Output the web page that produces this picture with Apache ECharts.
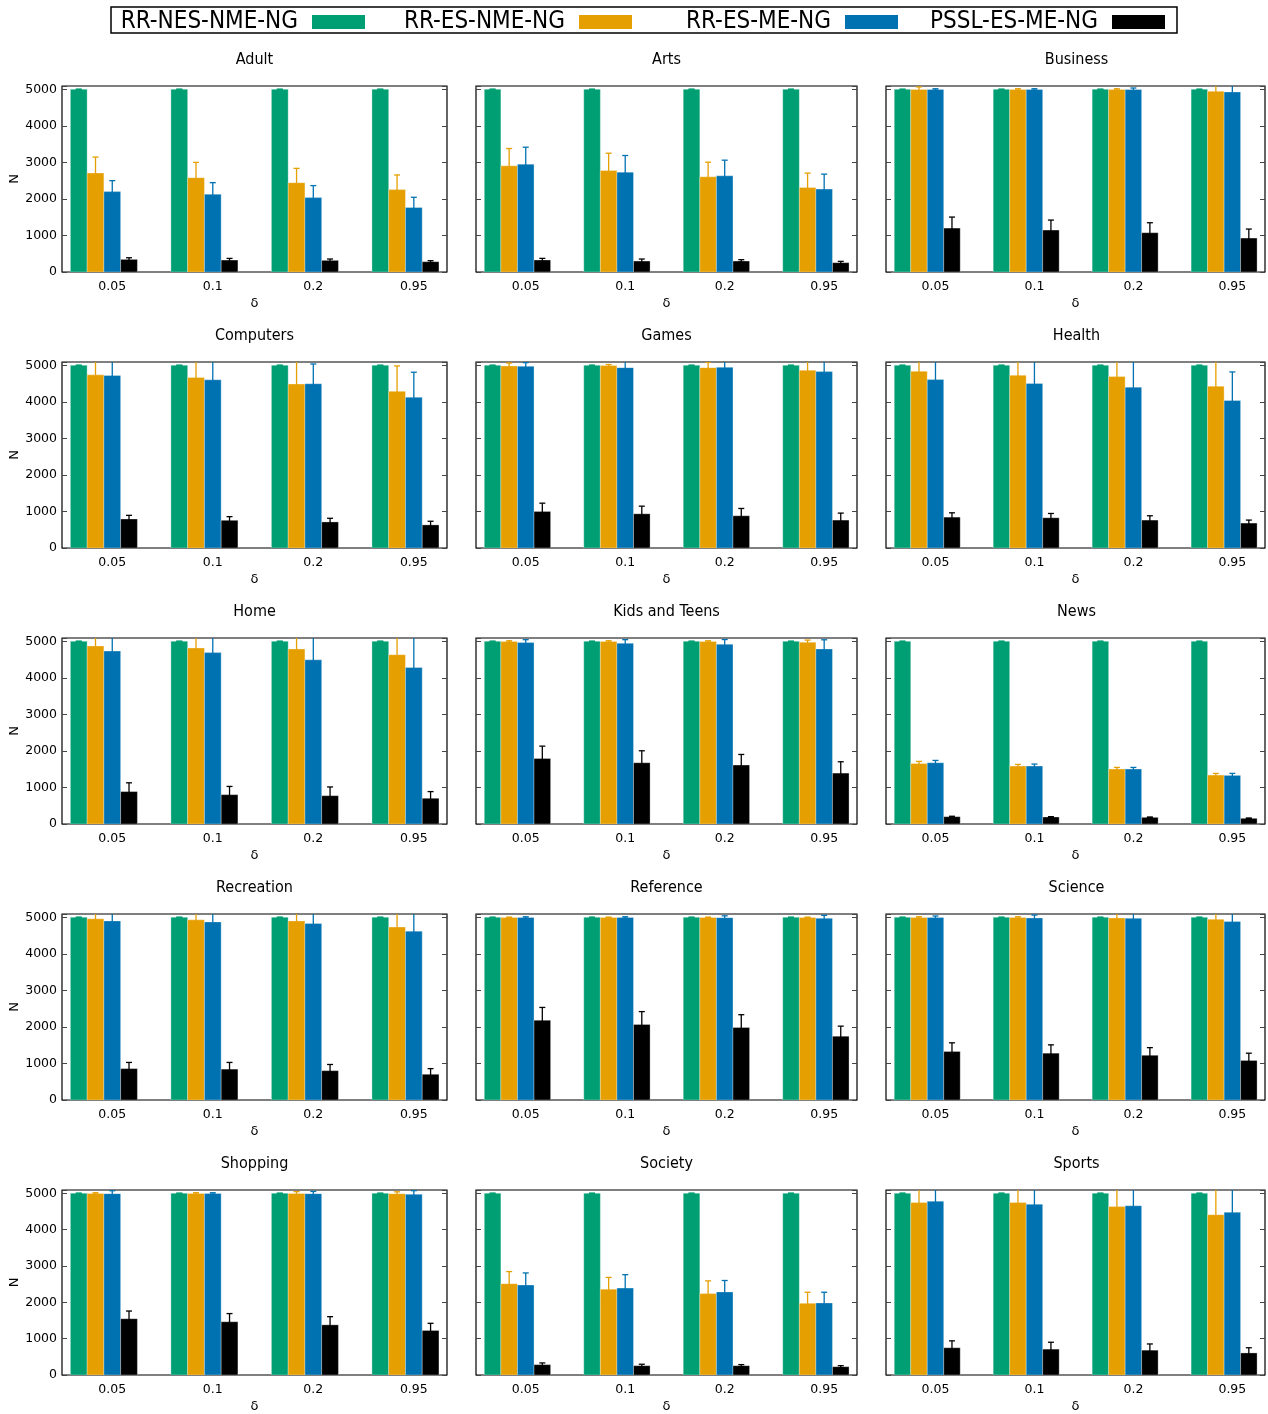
<!DOCTYPE html>
<html>
<head>
<meta charset="utf-8">
<script src="https://cdn.jsdelivr.net/npm/echarts@6/dist/echarts.min.js"></script>
<style>
html, body { margin: 0; padding: 0; background: #fff; }
#box { width: 1268px; height: 1414px; }
</style>
</head>
<body>
<div id="box"></div>
<script>
// one panel per category, 4 delta groups per panel
const categories = ['Adult', 'Arts', 'Business', 'Computers', 'Games', 'Health', 'Home',
    'Kids and Teens', 'News', 'Recreation', 'Reference', 'Science', 'Shopping', 'Society', 'Sports'];
const deltas = ['0.05', '0.1', '0.2', '0.95'];
const methods = ['RR-NES-NME-NG', 'RR-ES-NME-NG', 'RR-ES-ME-NG', 'PSSL-ES-ME-NG'];
const colors = ['#009e73', '#e69f00', '#0072b2', '#000000'];
const yTicks = [0, 1000, 2000, 3000, 4000, 5000];

// rows follow the order of categories
const rrNesNme = [
    [5000, 5000, 5000, 5000], [5000, 5000, 5000, 5000], [5000, 5000, 5000, 5000],
    [5000, 5000, 5000, 5000], [5000, 5000, 5000, 5000], [5000, 5000, 5000, 5000],
    [5000, 5000, 5000, 5000], [5000, 5000, 5000, 5000], [5000, 5000, 5000, 5000],
    [5000, 5000, 5000, 5000], [5000, 5000, 5000, 5000], [5000, 5000, 5000, 5000],
    [5000, 5000, 5000, 5000], [5000, 5000, 5000, 5000], [5000, 5000, 5000, 5000]
];
const rrNesNmeErr = [
    [0, 0, 0, 0], [0, 0, 0, 0], [0, 0, 0, 0], [0, 0, 0, 0], [0, 0, 0, 0],
    [0, 0, 0, 0], [0, 0, 0, 0], [0, 0, 0, 0], [0, 0, 0, 0], [0, 0, 0, 0],
    [0, 0, 0, 0], [0, 0, 0, 0], [0, 0, 0, 0], [0, 0, 0, 0], [0, 0, 0, 0]
];
const rrEsNme = [
    [2709, 2582, 2445, 2255], [2905, 2778, 2605, 2313], [4995, 4995, 4995, 4945],
    [4738, 4666, 4486, 4287], [4982, 4991, 4936, 4864], [4836, 4727, 4691, 4427],
    [4873, 4817, 4789, 4634], [4995, 4995, 4995, 4973], [1658, 1585, 1503, 1339],
    [4958, 4930, 4901, 4732], [4995, 4995, 4995, 4995], [4995, 4995, 4981, 4943],
    [4995, 4995, 4995, 4990], [2514, 2362, 2239, 1973], [4744, 4744, 4639, 4412]
];
const rrEsNmeErr = [
    [436, 418, 391, 400], [474, 473, 400, 392], [70, 20, 20, 200],
    [420, 450, 620, 695], [80, 30, 150, 250], [600, 650, 700, 800],
    [350, 400, 450, 600], [20, 20, 20, 60], [55, 45, 45, 45],
    [200, 250, 300, 450], [10, 10, 10, 10], [20, 20, 150, 200],
    [20, 20, 50, 50], [332, 323, 351, 304], [400, 400, 500, 700]
];
const rrEsMe = [
    [2200, 2127, 2036, 1764], [2951, 2732, 2632, 2268], [4995, 4995, 4995, 4927],
    [4720, 4603, 4495, 4124], [4973, 4936, 4945, 4827], [4609, 4500, 4400, 4036],
    [4732, 4690, 4493, 4282], [4964, 4945, 4918, 4791], [1676, 1585, 1503, 1330],
    [4901, 4873, 4831, 4620], [4995, 4995, 4990, 4972], [4995, 4981, 4972, 4886],
    [4990, 4995, 4990, 4972], [2476, 2391, 2287, 1983], [4782, 4696, 4658, 4478]
];
const rrEsMeErr = [
    [300, 318, 328, 281], [464, 456, 428, 410], [20, 20, 40, 250],
    [450, 550, 541, 686], [100, 180, 180, 300], [700, 750, 800, 782],
    [450, 500, 700, 900], [80, 100, 130, 250], [64, 55, 45, 55],
    [250, 300, 350, 550], [20, 20, 50, 80], [40, 80, 150, 300],
    [80, 20, 60, 100], [332, 370, 313, 294], [450, 500, 550, 750]
];
const psslEsMe = [
    [345, 327, 318, 282], [328, 300, 300, 255], [1202, 1148, 1075, 929],
    [794, 758, 713, 632], [1000, 936, 882, 764], [845, 827, 764, 682],
    [887, 803, 775, 704], [1794, 1676, 1612, 1393], [200, 191, 182, 155],
    [859, 845, 803, 704], [2182, 2068, 1983, 1746], [1328, 1281, 1224, 1082],
    [1549, 1465, 1380, 1225], [285, 256, 256, 228], [750, 712, 683, 607]
];
const psslEsMeErr = [
    [45, 45, 37, 27], [45, 55, 37, 36], [301, 273, 273, 246],
    [100, 100, 100, 100], [227, 209, 200, 191], [118, 118, 118, 82],
    [240, 225, 239, 183], [337, 328, 291, 310], [12, 10, 10, 10],
    [169, 183, 169, 155], [351, 351, 351, 275], [237, 228, 209, 199],
    [211, 225, 225, 197], [47, 40, 30, 30], [189, 189, 171, 143]
];

const values = [rrNesNme, rrEsNme, rrEsMe, psslEsMe];
const errors = [rrNesNmeErr, rrEsNmeErr, rrEsMeErr, psslEsMeErr];

const FONT = "'DejaVu Sans Condensed', 'DejaVu Sans', sans-serif";
const TICKFONT = "'DejaVu Sans', sans-serif";
const colLeft = [62, 476, 886];
const colWidth = [385, 381, 381];
const rowTop = [86, 362, 638, 914, 1190];
const plotH = 186;
const swatchRight = [365, 632, 898, 1165];

// gnuplot style clustered boxes: 5 slots of 1/6 each, last slot empty
function makeRender(m) {
    const off = (m - 2) / 6;
    return function (params, api) {
        const x = api.value(0) + off;
        const v = api.value(1);
        const e = api.value(2);
        const top = api.coord([x, v]);
        const base = api.coord([x, 0]);
        const lo = api.coord([x, v - e]);
        const hi = api.coord([x, v + e]);
        const w = api.size([1 / 6, 0])[0];
        const color = api.visual('color');
        const cap = 3;
        return {
            type: 'group',
            children: [
                {
                    type: 'rect',
                    shape: { x: top[0] - w / 2, y: top[1], width: w, height: base[1] - top[1] },
                    style: { fill: color, stroke: 'rgba(255,255,255,0.3)', lineWidth: 1 }
                },
                { type: 'line', shape: { x1: top[0], y1: lo[1], x2: top[0], y2: hi[1] }, style: { stroke: color, lineWidth: 1.3 } },
                { type: 'line', shape: { x1: top[0] - cap, y1: hi[1], x2: top[0] + cap, y2: hi[1] }, style: { stroke: color, lineWidth: 1.3 } },
                { type: 'line', shape: { x1: top[0] - cap, y1: lo[1], x2: top[0] + cap, y2: lo[1] }, style: { stroke: color, lineWidth: 1.3 } }
            ]
        };
    };
}

const grid = [], xAxis = [], yAxis = [], title = [], series = [];

categories.forEach(function (name, k) {
    const r = Math.floor(k / 3), c = k % 3;
    grid.push({
        left: colLeft[c], top: rowTop[r], width: colWidth[c], height: plotH,
        show: true, borderColor: '#000', borderWidth: 1.2, backgroundColor: 'transparent'
    });
    title.push({
        text: name,
        left: colLeft[c] + colWidth[c] / 2,
        top: rowTop[r] - 34,
        textAlign: 'center',
        padding: 0,
        textStyle: { fontSize: 16, fontWeight: 'normal', color: '#000', fontFamily: FONT }
    });
    xAxis.push({
        gridIndex: k, type: 'value', min: -0.5, max: 3.33, interval: 0.5,
        axisLine: { show: false, onZero: false }, axisTick: { show: false }, splitLine: { show: false },
        axisLabel: {
            margin: 8, fontSize: 12.5, color: '#000', fontFamily: TICKFONT,
            formatter: function (v) {
                return (Number.isInteger(v) && v >= 0 && v < deltas.length) ? deltas[v] : '';
            }
        },
        name: 'δ', nameLocation: 'middle', nameGap: 25,
        nameTextStyle: { fontSize: 13, color: '#000', fontFamily: TICKFONT }
    });
    const tickStyle = { show: true, inside: true, length: 5, lineStyle: { color: '#444', width: 1 } };
    yAxis.push({
        gridIndex: k, type: 'value', position: 'left', min: 0, max: 5090, interval: 1000,
        axisLine: { show: false, onZero: false }, axisTick: tickStyle, splitLine: { show: false },
        axisLabel: {
            show: c === 0, margin: 5, fontSize: 12.5, color: '#000', fontFamily: TICKFONT,
            formatter: function (v) { return yTicks.indexOf(v) >= 0 ? String(v) : ''; }
        },
        name: c === 0 ? 'N' : '', nameLocation: 'middle', nameGap: 35,
        nameTextStyle: { fontSize: 13, color: '#000', fontFamily: TICKFONT }
    });
    yAxis.push({
        gridIndex: k, type: 'value', position: 'right', min: 0, max: 5090, interval: 1000,
        axisLine: { show: false, onZero: false }, axisTick: tickStyle, splitLine: { show: false },
        axisLabel: { show: false }
    });
    methods.forEach(function (m, i) {
        series.push({
            type: 'custom',
            name: m,
            xAxisIndex: k,
            yAxisIndex: 2 * k,
            clip: true,
            itemStyle: { color: colors[i] },
            encode: { x: 0, y: 1 },
            data: deltas.map(function (d, j) { return [j, values[i][k][j], errors[i][k][j]]; }),
            renderItem: makeRender(i)
        });
    });
});

const legend = methods.map(function (m, i) {
    return {
        data: [m],
        right: 1268 - swatchRight[i],
        top: 10,
        align: 'right',
        icon: 'rect',
        itemWidth: 53,
        itemHeight: 14,
        padding: 0,
        selectedMode: false,
        textStyle: { fontSize: 24, color: '#000', fontFamily: FONT, padding: [0, 9, 0, 0] }
    };
});

const chart = echarts.init(document.getElementById('box'));
chart.setOption({
    animation: false,
    backgroundColor: '#fff',
    title: title,
    legend: legend,
    grid: grid,
    xAxis: xAxis,
    yAxis: yAxis,
    series: series,
    graphic: [{
        type: 'rect',
        shape: { x: 111, y: 7, width: 1066, height: 26 },
        style: { fill: 'none', stroke: '#000', lineWidth: 1.5 },
        z: 10
    }]
});
</script>
</body>
</html>
